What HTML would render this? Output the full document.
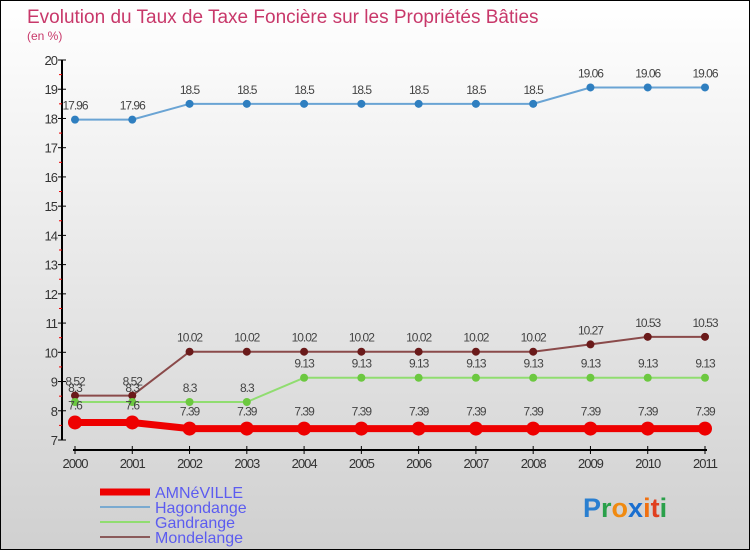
<!DOCTYPE html>
<html><head><meta charset="utf-8"><style>
body{margin:0;width:750px;height:550px;overflow:hidden}
svg{display:block;font-family:"Liberation Sans",sans-serif}
</style></head><body>
<svg width="750" height="550" viewBox="0 0 750 550">
<defs><linearGradient id="bg" x1="0" y1="0" x2="0" y2="1"><stop offset="0" stop-color="#ffffff"/><stop offset="1" stop-color="#d0d0d0"/></linearGradient></defs>
<rect x="0.5" y="0.5" width="749" height="549" fill="url(#bg)" stroke="#000"/>
<text x="27" y="23" font-size="19" fill="#c8386a">Evolution du Taux de Taxe Foncière sur les Propriétés Bâties</text>
<text x="27" y="40" font-size="12" fill="#c8386a">(en %)</text>
<g id="axes"></g>
<g id="series"></g>
<g>
<line x1="100" y1="492" x2="150" y2="492" stroke="#ee0000" stroke-width="7"/>
<text x="155" y="498" font-size="16" fill="#5c5cf0">AMNéVILLE</text>
<line x1="100" y1="507" x2="150" y2="507" stroke="#7aaad0" stroke-width="2"/>
<text x="155" y="513" font-size="16" fill="#5c5cf0">Hagondange</text>
<line x1="100" y1="522" x2="150" y2="522" stroke="#90dd70" stroke-width="2"/>
<text x="155" y="528" font-size="16" fill="#5c5cf0">Gandrange</text>
<line x1="100" y1="537" x2="150" y2="537" stroke="#8a5a5a" stroke-width="2"/>
<text x="155" y="543" font-size="16" fill="#5c5cf0">Mondelange</text>
</g>
<text x="583" y="517" font-size="27" font-weight="bold"><tspan fill="#2a7fd0">P</tspan><tspan fill="#2aa04a">r</tspan><tspan fill="#f08a10">o</tspan><tspan fill="#1a6fd0">x</tspan><tspan fill="#f07010">i</tspan><tspan fill="#e04020">t</tspan><tspan fill="#2aa04a">i</tspan></text>
</svg>
<script>
const years=["2000","2001","2002","2003","2004","2005","2006","2007","2008","2009","2010","2011"];
const amneville=[7.6,7.6,7.39,7.39,7.39,7.39,7.39,7.39,7.39,7.39,7.39,7.39];
const hagondange=[17.96,17.96,18.5,18.5,18.5,18.5,18.5,18.5,18.5,19.06,19.06,19.06];
const gandrange=[8.3,8.3,8.3,8.3,9.13,9.13,9.13,9.13,9.13,9.13,9.13,9.13];
const mondelange=[8.52,8.52,10.02,10.02,10.02,10.02,10.02,10.02,10.02,10.27,10.53,10.53];
const yTicks=[7,8,9,10,11,12,13,14,15,16,17,18,19,20];
const NS="http://www.w3.org/2000/svg";
const x=i=>75+i*(630/(years.length-1));
const y=v=>440-(v-7)*(380/13);
function mk(t,a,p){const e=document.createElementNS(NS,t);for(const k in a)e.setAttribute(k,a[k]);p.appendChild(e);return e;}
const ax=document.getElementById('axes');
let e=mk('line',{x1:62,y1:y(20),x2:62,y2:y(7),stroke:'#000','stroke-width':2},ax);


yTicks.forEach(v=>{
 let t=mk('line',{x1:58,y1:y(v),x2:66,y2:y(v),stroke:'#000'},ax);
 
 
 if(v<20){let m=mk('line',{x1:59,y1:y(v+0.5),x2:62,y2:y(v+0.5),stroke:'#e00'},ax);
 
 }
 let l=mk('text',{x:57,y:y(v)+5,'text-anchor':'end','font-size':13,fill:'#333','letter-spacing':'-1'},ax);
 l.textContent=v;
 
 
});
e=mk('line',{x1:73,y1:450,x2:707,y2:450,stroke:'#000','stroke-width':2},ax);


years.forEach((yr,i)=>{
 let t=mk('line',{x1:x(i),y1:446,x2:x(i),y2:454,stroke:'#000'},ax);
 
 
 let l=mk('text',{x:x(i),y:468,'text-anchor':'middle','font-size':13,fill:'#333','letter-spacing':'-1'},ax);
 l.textContent=yr;
 
 
});
const sg=document.getElementById('series');
function series(name,vals,col,dot,w,r){
 const g=mk('g',{},sg);
 
 
 let p=mk('polyline',{points:vals.map((v,i)=>x(i)+','+y(v)).join(' '),fill:'none',stroke:col,'stroke-width':w},g);
 
 
 vals.forEach((v,i)=>{
  let c=mk('circle',{cx:x(i),cy:y(v),r:r,fill:dot},g);
  
  
  let l=mk('text',{x:x(i),y:y(v)-(r+6),'text-anchor':'middle','font-size':12,fill:'#444','letter-spacing':'-1'},g);
  l.textContent=v;
  
  
 });
}
series('hagondange',hagondange,'#6aa4d4','#2f7fc0',2,4);
series('mondelange',mondelange,'#8a4a4a','#6a1a1a',2,4);
series('gandrange',gandrange,'#90dd70','#6cc840',2,4);
series('amneville',amneville,'#ee0000','#ee0000',7,7);
</script>
</body></html>
